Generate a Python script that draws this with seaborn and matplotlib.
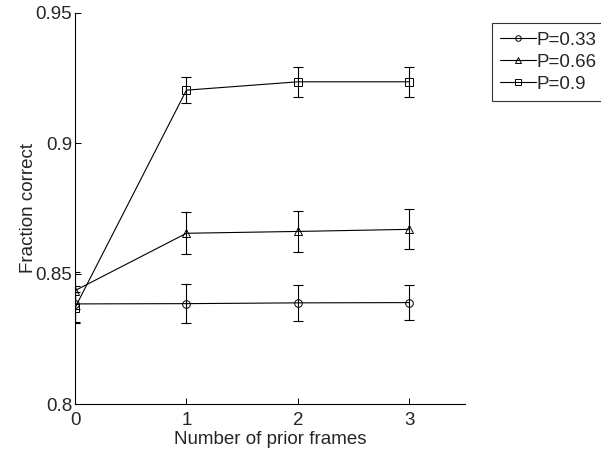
import numpy as np
import pandas as pd
import seaborn as sns
import matplotlib
matplotlib.use('Agg')
import matplotlib.pyplot as plt

frames = [0, 1, 2, 3]
labels = ['P=0.33', 'P=0.66', 'P=0.9']
p033 = [0.8384, 0.8385, 0.8388, 0.8389]
p066 = [0.8435, 0.8655, 0.8662, 0.8670]
p09 = [0.8369, 0.9204, 0.9236, 0.9236]
err033 = [0.0070, 0.0075, 0.0070, 0.0068]
err066 = [0.0070, 0.0080, 0.0080, 0.0077]
err09 = [0.0060, 0.0050, 0.0058, 0.0058]

sns.set_style('ticks')
plt.rcParams['font.family'] = ['Liberation Sans', 'DejaVu Sans']
plt.rcParams['xtick.direction'] = 'in'
plt.rcParams['ytick.direction'] = 'in'

dfs = pd.DataFrame({
    'frames': frames * 3,
    'value': p033 + p066 + p09,
    'P': [labels[0]] * 4 + [labels[1]] * 4 + [labels[2]] * 4,
})

fig = plt.figure(figsize=(6.01, 4.51), dpi=100)
ax = fig.add_axes([0.1248, 0.1042, 0.6489, 0.8670])

markers = {labels[0]: 'o', labels[1]: '^', labels[2]: 's'}
ax = sns.lineplot(data=dfs, x='frames', y='value', hue='P', style='P',
                  markers=markers, dashes=False,
                  palette=['black'] * 3, ax=ax, lw=0.8,
                  markersize=5.5, markerfacecolor='none',
                  markeredgecolor='black', markeredgewidth=0.7)

for vals, errs in zip([p033, p066, p09], [err033, err066, err09]):
    ax.errorbar(frames, vals, yerr=errs, fmt='none', ecolor='black',
                elinewidth=0.8, capsize=3.5, capthick=0.8)

fs = 13.5
ax.set_xlim(0, 3.5)
ax.set_ylim(0.8, 0.95)
ax.set_xticks([0, 1, 2, 3])
ax.set_yticks([0.8, 0.85, 0.9, 0.95])
ax.set_yticklabels(['0.8', '0.85', '0.9', '0.95'])
ax.tick_params(labelsize=fs, length=4, width=0.7, color='black')
ax.tick_params(axis='x', pad=6)
ax.tick_params(axis='y', pad=2)
for s in ['top', 'right']:
    ax.spines[s].set_visible(False)
for s in ['left', 'bottom']:
    ax.spines[s].set_linewidth(0.8)
    ax.spines[s].set_color('black')

ax.set_xlabel('Number of prior frames', fontsize=fs, labelpad=1.5)
ax.set_ylabel('Fraction correct', fontsize=fs)
ax.yaxis.set_label_coords(-0.097, 0.5)

leg = ax.legend(loc='upper left', bbox_to_anchor=(0.8186, 0.949),
                bbox_transform=fig.transFigure, borderaxespad=0,
                fontsize=fs, frameon=True, fancybox=False,
                handlelength=1.9, handletextpad=0.05, borderpad=0.45,
                labelspacing=0.27, title=None)
leg.get_frame().set_edgecolor('black')
leg.get_frame().set_linewidth(0.8)
for h in leg.legend_handles:
    h.set_markersize(4)

plt.savefig('out.png', dpi=100)
plt.close()
